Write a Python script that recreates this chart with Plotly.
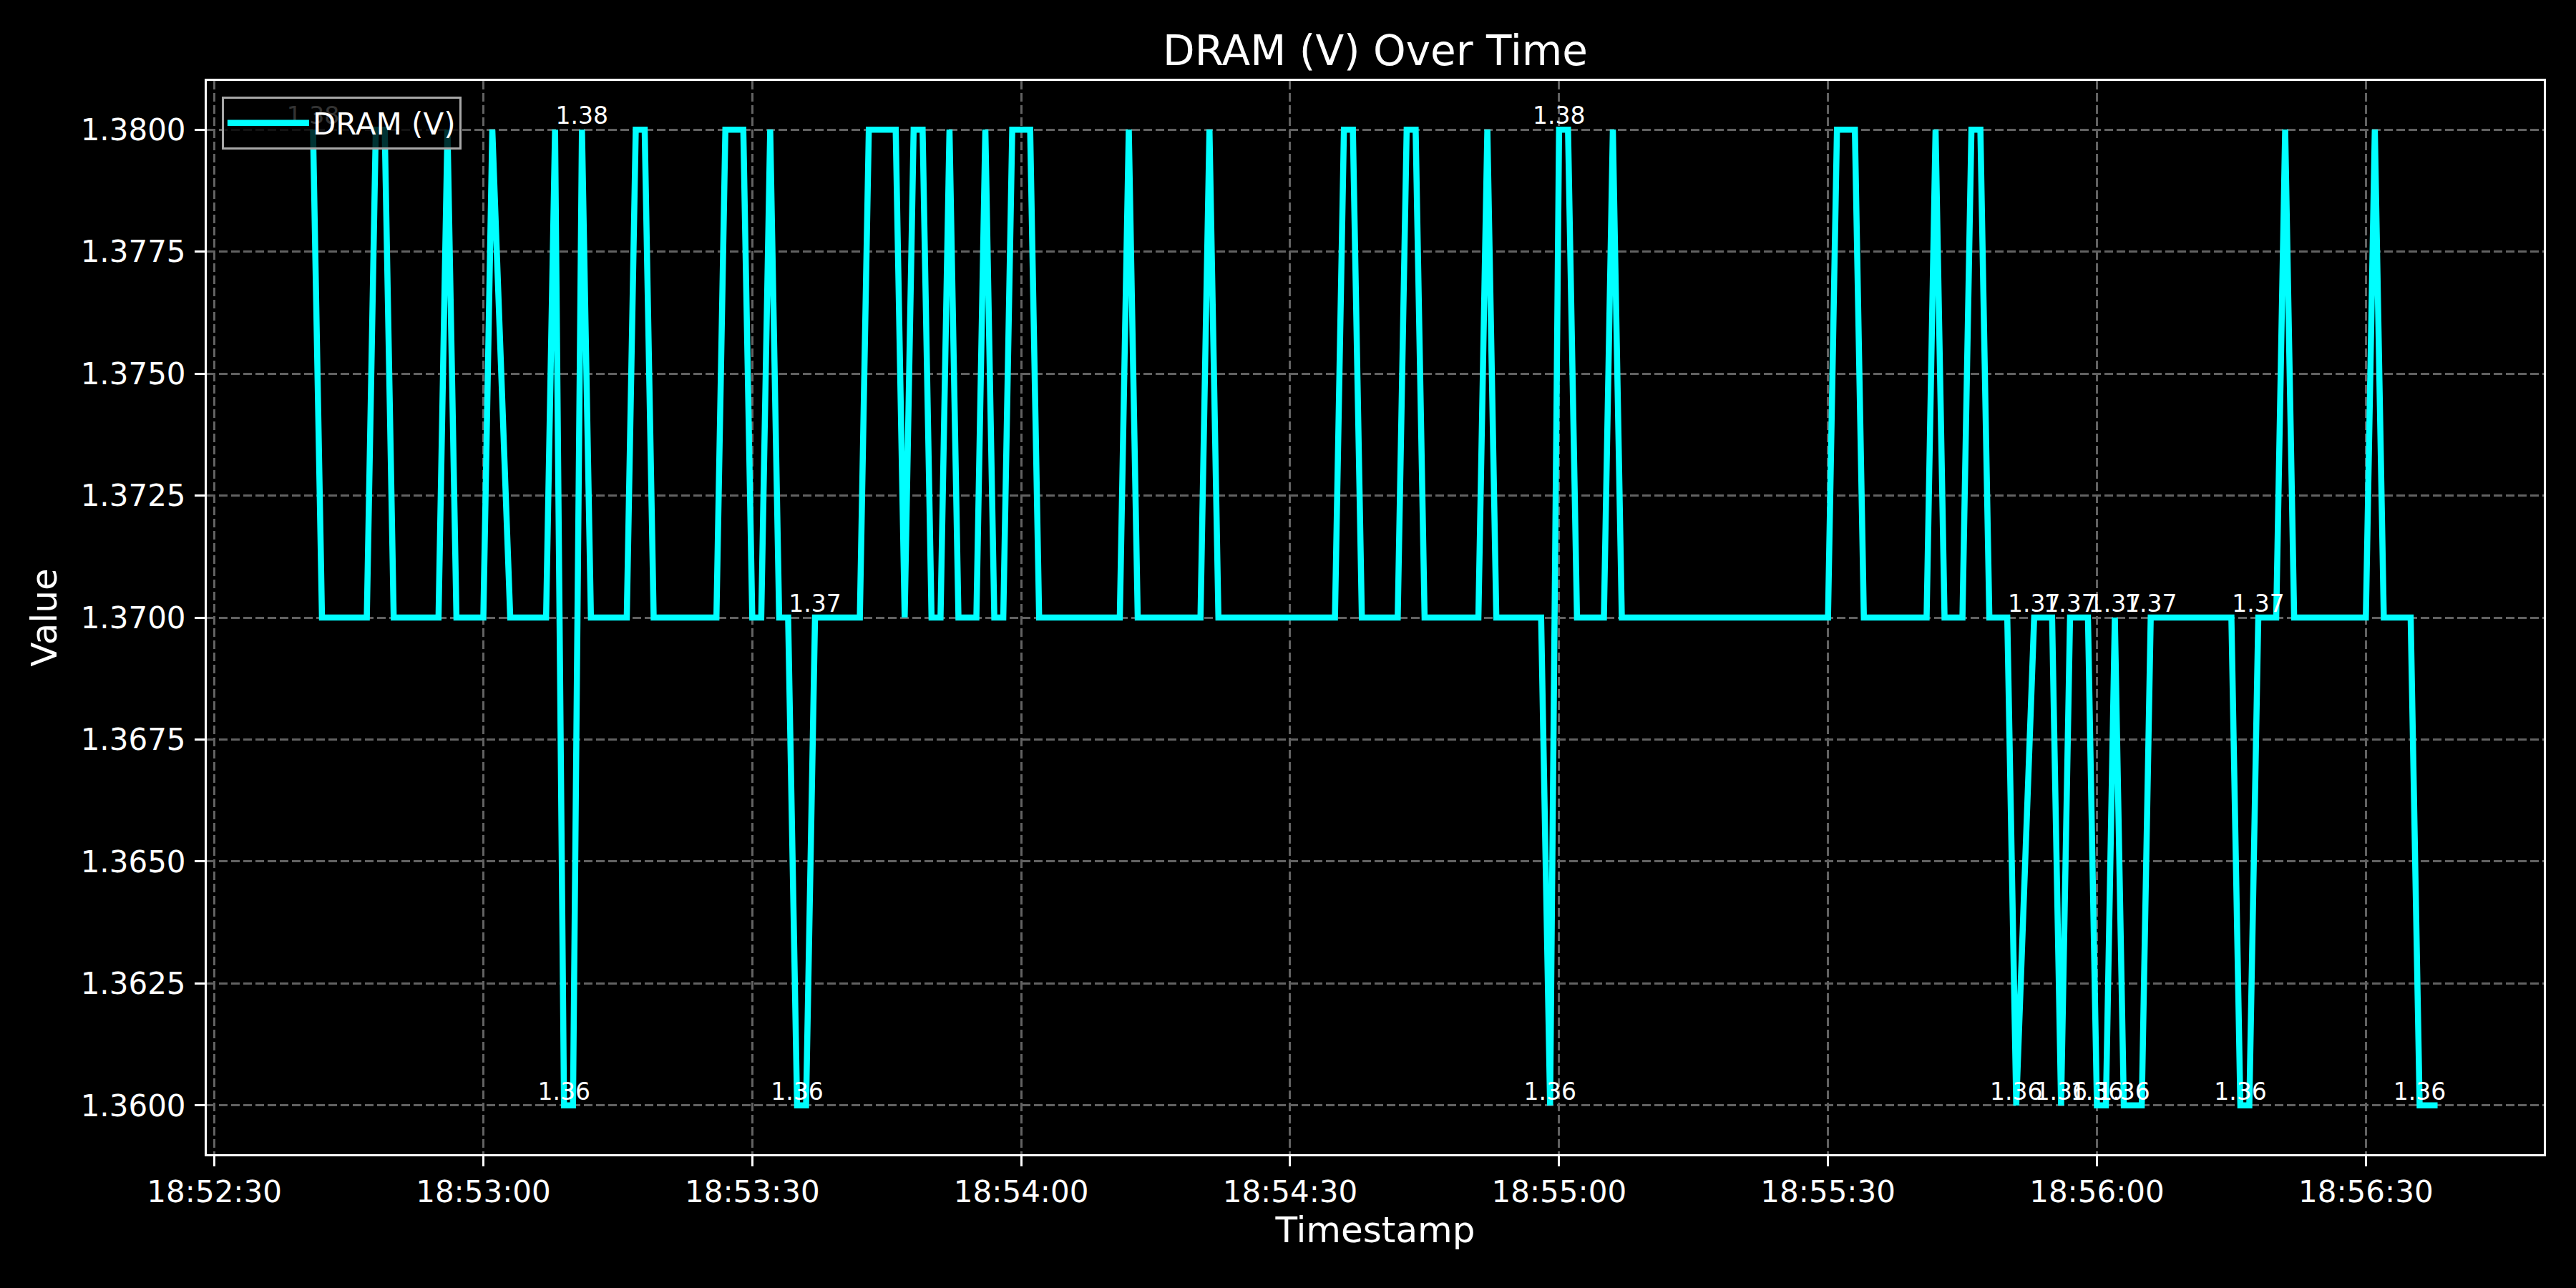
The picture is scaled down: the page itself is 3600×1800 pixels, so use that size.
import plotly.graph_objects as go
import pandas as pd

DATE = "2024-01-01"
SERIES_NAME = "DRAM (V)"
TITLE = "DRAM (V) Over Time"

times = [
    "18:52:41", "18:52:42", "18:52:47", "18:52:48", "18:52:49", "18:52:50", "18:52:55", "18:52:56",
    "18:52:57", "18:53:00", "18:53:01", "18:53:03", "18:53:07", "18:53:08", "18:53:09", "18:53:10",
    "18:53:11", "18:53:12", "18:53:16", "18:53:17", "18:53:18", "18:53:19", "18:53:26", "18:53:27",
    "18:53:29", "18:53:30", "18:53:31", "18:53:32", "18:53:33", "18:53:34", "18:53:35", "18:53:36",
    "18:53:37", "18:53:42", "18:53:43", "18:53:46", "18:53:47", "18:53:48", "18:53:49", "18:53:50",
    "18:53:51", "18:53:52", "18:53:53", "18:53:55", "18:53:56", "18:53:57", "18:53:58", "18:53:59",
    "18:54:01", "18:54:02", "18:54:11", "18:54:12", "18:54:13", "18:54:20", "18:54:21", "18:54:22",
    "18:54:35", "18:54:36", "18:54:37", "18:54:38", "18:54:42", "18:54:43", "18:54:44", "18:54:45",
    "18:54:51", "18:54:52", "18:54:53", "18:54:58", "18:54:59", "18:55:00", "18:55:01", "18:55:02",
    "18:55:05", "18:55:06", "18:55:07", "18:55:30", "18:55:31", "18:55:33", "18:55:34", "18:55:41",
    "18:55:42", "18:55:43", "18:55:45", "18:55:46", "18:55:47", "18:55:48", "18:55:50", "18:55:51",
    "18:55:53", "18:55:55", "18:55:56", "18:55:57", "18:55:59", "18:56:00", "18:56:01", "18:56:02",
    "18:56:03", "18:56:05", "18:56:06", "18:56:15", "18:56:16", "18:56:17", "18:56:18", "18:56:20",
    "18:56:21", "18:56:22", "18:56:30", "18:56:31", "18:56:32", "18:56:35", "18:56:36", "18:56:38",
]

values = [
    1.38, 1.37, 1.37, 1.38, 1.38, 1.37, 1.37, 1.38,
    1.37, 1.37, 1.38, 1.37, 1.37, 1.38, 1.36, 1.36,
    1.38, 1.37, 1.37, 1.38, 1.38, 1.37, 1.37, 1.38,
    1.38, 1.37, 1.37, 1.38, 1.37, 1.37, 1.36, 1.36,
    1.37, 1.37, 1.38, 1.38, 1.37, 1.38, 1.38, 1.37,
    1.37, 1.38, 1.37, 1.37, 1.38, 1.37, 1.37, 1.38,
    1.38, 1.37, 1.37, 1.38, 1.37, 1.37, 1.38, 1.37,
    1.37, 1.38, 1.38, 1.37, 1.37, 1.38, 1.38, 1.37,
    1.37, 1.38, 1.37, 1.37, 1.36, 1.38, 1.38, 1.37,
    1.37, 1.38, 1.37, 1.37, 1.38, 1.38, 1.37, 1.37,
    1.38, 1.37, 1.37, 1.38, 1.38, 1.37, 1.37, 1.36,
    1.37, 1.37, 1.36, 1.37, 1.37, 1.36, 1.36, 1.37,
    1.36, 1.36, 1.37, 1.37, 1.36, 1.36, 1.37, 1.37,
    1.38, 1.37, 1.37, 1.38, 1.37, 1.37, 1.36, 1.36,
]

labeled_times = [
    "18:52:41", "18:53:09", "18:53:11", "18:53:35", "18:53:37", "18:54:59", "18:55:00",
    "18:55:51", "18:55:53", "18:55:56", "18:55:57", "18:56:00", "18:56:02", "18:56:03",
    "18:56:06", "18:56:16", "18:56:18", "18:56:36",
]

y_ticks = [1.36, 1.3625, 1.365, 1.3675, 1.37, 1.3725, 1.375, 1.3775, 1.38]

x = pd.to_datetime([f"{DATE} {t}" for t in times])
label_x = pd.to_datetime([f"{DATE} {t}" for t in labeled_times])
label_y = [values[times.index(t)] for t in labeled_times]

fig = go.Figure()
fig.add_trace(go.Scatter(
    x=x, y=values, mode="lines", name=SERIES_NAME,
    line=dict(color="#00FFFF", width=8.5),
))
fig.add_trace(go.Scatter(
    x=label_x, y=label_y, mode="text", showlegend=False,
    text=[f"{v:.2f}" for v in label_y], textposition="top center",
    textfont=dict(size=33, color="white", family="DejaVu Sans"),
    cliponaxis=False, hoverinfo="skip",
))

xmin = pd.Timestamp(f"{DATE} 18:52:29.15")
xmax = pd.Timestamp(f"{DATE} 18:56:49.85")

grid = dict(showgrid=True, gridcolor="#626262", gridwidth=3, griddash="12px,5px")
axis_common = dict(
    showline=True, linecolor="white", linewidth=3, mirror=True,
    ticks="outside", ticklen=14, tickwidth=3, tickcolor="white",
    tickfont=dict(size=42, color="white"), zeroline=False, **grid,
)

fig.update_layout(
    width=3600, height=1800,
    paper_bgcolor="black", plot_bgcolor="black",
    font=dict(family="DejaVu Sans", color="white"),
    margin=dict(l=289, r=45, t=113, b=187),
    title=dict(text=TITLE, x=0.5, xref="paper", y=1 - 71 / 1800, yref="container",
               xanchor="center", yanchor="middle", font=dict(size=58, color="white")),
    xaxis=dict(type="date", range=[xmin, xmax], tick0=f"{DATE} 18:52:30", dtick=30000,
               tickformat="%H:%M:%S", ticklabelstandoff=0,
               title=dict(text="Timestamp", font=dict(size=50, color="white"), standoff=12),
               **axis_common),
    yaxis=dict(range=[1.359, 1.381], tickvals=y_ticks, tickformat=".4f", ticklabelstandoff=4,
               title=dict(text="Value", font=dict(size=50, color="white"), standoff=18),
               **axis_common),
    showlegend=True,
    legend=dict(x=0.0064, y=0.9853, xanchor="left", yanchor="top",
                bgcolor="rgba(0,0,0,0.8)", bordercolor="#a8a8a8", borderwidth=3,
                itemwidth=114, font=dict(size=42, color="white")),
)

fig.write_html(
    "out.html",
    config={"displayModeBar": False},
    post_script="document.body.style.margin='0';document.body.style.background='black';",
)
